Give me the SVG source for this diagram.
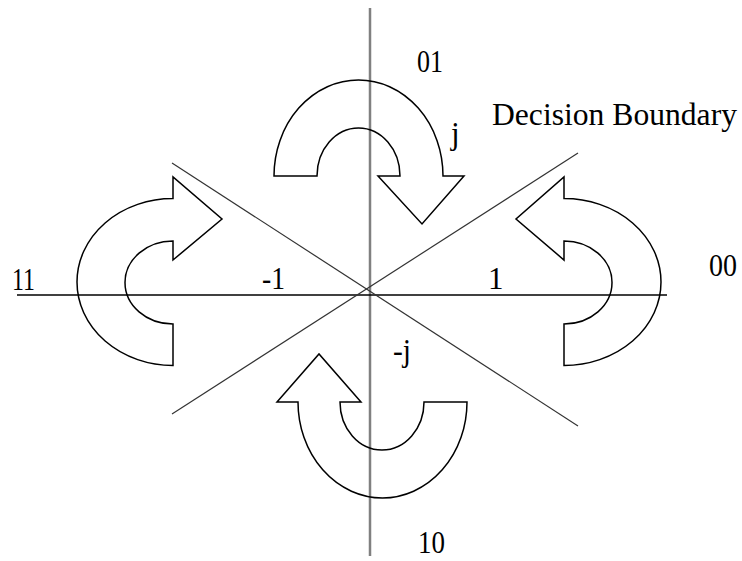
<svg xmlns="http://www.w3.org/2000/svg" width="742" height="561" viewBox="0 0 742 561">
<style>
.t{font-family:"Liberation Serif","Times New Roman",serif;font-size:31px;fill:#000}
.arr{fill:none;stroke:#000;stroke-width:1.5;stroke-linejoin:miter}
</style>
<rect width="742" height="561" fill="#fff"/>
<g id="connectors">
<line x1="370" y1="8" x2="370" y2="556" stroke="#808080" stroke-width="2.5"/>
<line x1="17" y1="295" x2="667" y2="295" stroke="#000" stroke-width="1.5"/>
<line x1="172" y1="163" x2="578" y2="426" stroke="#333" stroke-width="1.2"/>
<line x1="172" y1="414" x2="578" y2="153" stroke="#333" stroke-width="1.2"/>
</g>
<g id="arrow-top"><path class="arr" d="M274,176 A84.5,96 0 0 1 443,176 L464,176 L422,224 L378,176 L400,176 A41.5,48 0 0 0 317,176 Z"/></g>
<g id="arrow-left"><path class="arr" d="M173,365.5 A96,83.5 0 0 1 173,198.5 L173,177 L222,219 L173,260 L173,241 A48,41.5 0 0 0 173,324 Z"/></g>
<g id="arrow-right"><path class="arr" d="M564,365.5 A97,83.5 0 0 0 564,198.5 L564,177 L516,219 L564,260 L564,241 A48,41.5 0 0 1 564,324 Z"/></g>
<g id="arrow-bottom"><path class="arr" d="M467,402 A84.5,96 0 0 1 298,402 L277,402 L319,354 L361,402 L340,402 A42,48 0 0 0 424,402 Z"/></g>
<g id="labels">
<text class="t" x="417" y="72" textLength="26" lengthAdjust="spacingAndGlyphs">01</text>
<text class="t" x="492" y="125" textLength="245" lengthAdjust="spacingAndGlyphs">Decision Boundary</text>
<text class="t" x="451" y="144">j</text>
<text class="t" x="12" y="290" textLength="23" lengthAdjust="spacingAndGlyphs">11</text>
<text class="t" x="262" y="289" textLength="23" lengthAdjust="spacingAndGlyphs">-1</text>
<text class="t" x="488" y="289">1</text>
<text class="t" x="709" y="276" textLength="28" lengthAdjust="spacingAndGlyphs">00</text>
<text class="t" x="393" y="361" textLength="18" lengthAdjust="spacingAndGlyphs">-j</text>
<text class="t" x="418" y="553" textLength="27" lengthAdjust="spacingAndGlyphs">10</text>
</g>
</svg>
